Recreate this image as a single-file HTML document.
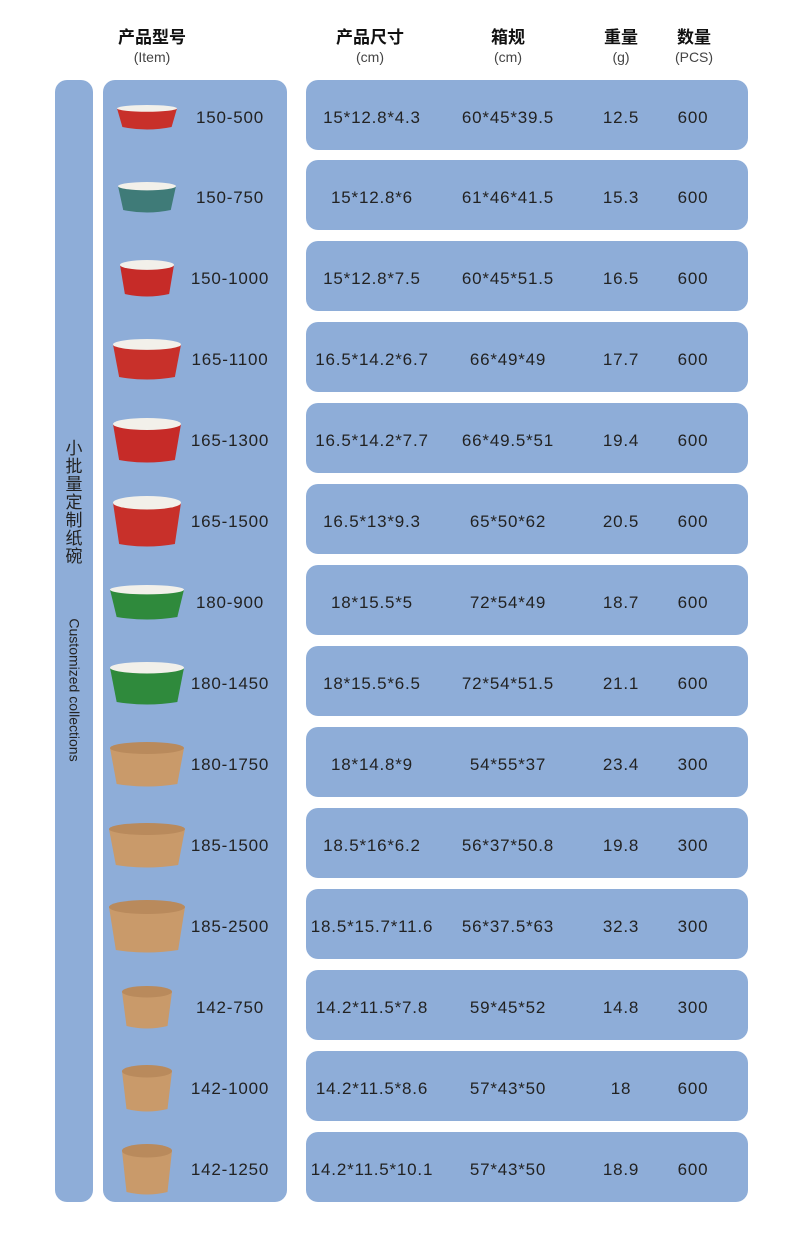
<!DOCTYPE html>
<html><head><meta charset="utf-8"><style>
body{margin:0;width:800px;height:1243px;background:#fff;position:relative;font-family:"Liberation Sans","Noto Sans CJK SC",sans-serif;overflow:hidden}
.a{position:absolute}
.bx{position:absolute;background:#8eadd8;border-radius:12px}
.h{position:absolute;text-align:center;font-weight:bold;font-size:17px;color:#111;line-height:20px}
.h span{display:block;font-weight:normal;font-size:14px;color:#444;line-height:18px}
.t{position:absolute;font-size:17px;color:#222;text-align:center;width:160px;margin-left:-80px;line-height:20px;letter-spacing:0.8px}
</style></head><body>
<div class="h" style="left:102px;top:28px;width:100px">产品型号<span>(Item)</span></div>
<div class="h" style="left:320px;top:28px;width:100px">产品尺寸<span>(cm)</span></div>
<div class="h" style="left:458px;top:28px;width:100px">箱规<span>(cm)</span></div>
<div class="h" style="left:571px;top:28px;width:100px">重量<span>(g)</span></div>
<div class="h" style="left:644px;top:28px;width:100px">数量<span>(PCS)</span></div>
<div class="bx" style="left:55px;top:80px;width:38px;height:1122px"></div>
<div class="bx" style="left:103px;top:80px;width:184px;height:1122px"></div>
<div class="a" style="left:64px;top:440px;width:20px;font-size:17px;line-height:18px;color:#222;text-align:center">小批量定制纸碗</div>
<div class="a" style="left:-3px;top:682px;width:155px;transform:rotate(90deg);font-size:14px;color:#222;text-align:center;line-height:16px">Customized collections</div>
<div id="rows"></div>
<script>
var d=[["150-500","15*12.8*4.3","60*45*39.5","12.5","600","#c8302a",60,26],
["150-750","15*12.8*6","61*46*41.5","15.3","600","#3f7b78",58,32],
["150-1000","15*12.8*7.5","60*45*51.5","16.5","600","#c62b28",54,38],
["165-1100","16.5*14.2*6.7","66*49*49","17.7","600","#c8302a",68,42],
["165-1300","16.5*14.2*7.7","66*49.5*51","19.4","600","#c62b28",68,46],
["165-1500","16.5*13*9.3","65*50*62","20.5","600","#c8302a",68,52],
["180-900","18*15.5*5","72*54*49","18.7","600","#2f8a3c",74,36],
["180-1450","18*15.5*6.5","72*54*51.5","21.1","600","#2f8a3c",74,44],
["180-1750","18*14.8*9","54*55*37","23.4","300","#c99a6a",74,46],
["185-1500","18.5*16*6.2","56*37*50.8","19.8","300","#c99a6a",76,46],
["185-2500","18.5*15.7*11.6","56*37.5*63","32.3","300","#c99a6a",76,54],
["142-750","14.2*11.5*7.8","59*45*52","14.8","300","#c99a6a",50,44],
["142-1000","14.2*11.5*8.6","57*43*50","18","600","#c99a6a",50,48],
["142-1250","14.2*11.5*10.1","57*43*50","18.9","600","#c99a6a",50,52]];
var tops=[80,160,241,322,403,484,565,646,727,808,889,970,1051,1132],h="";
d.forEach(function(r,i){var y=tops[i],c=y+38;
h+='<div class="bx" style="left:306px;top:'+y+'px;width:442px;height:70px"></div>';
var w=r[6],hh=r[7],cx=147,cy=c,top=cy-hh/2,bw=w*0.82,kraft=r[5]=="#c99a6a";
h+='<svg class="a" style="left:'+(cx-w/2-2)+'px;top:'+(top-2)+'px" width="'+(w+4)+'" height="'+(hh+4)+'"><path d="M2 '+(2+hh*0.13)+' L'+(2+(w-bw)/2)+' '+(hh-2)+' Q'+(2+w/2)+' '+(hh+3)+' '+(2+w-(w-bw)/2)+' '+(hh-2)+' L'+(w+2)+' '+(2+hh*0.13)+' Z" fill="'+r[5]+'"/><ellipse cx="'+(2+w/2)+'" cy="'+(2+hh*0.13)+'" rx="'+(w/2)+'" ry="'+(hh*0.13)+'" fill="'+(kraft?'#b98a5c':'#f2f0ea')+'"/></svg>';
h+='<div class="t" style="left:230px;top:'+(c-10)+'px">'+r[0]+'</div>';
h+='<div class="t" style="left:372px;top:'+(c-10)+'px">'+r[1]+'</div>';
h+='<div class="t" style="left:508px;top:'+(c-10)+'px">'+r[2]+'</div>';
h+='<div class="t" style="left:621px;top:'+(c-10)+'px">'+r[3]+'</div>';
h+='<div class="t" style="left:693px;top:'+(c-10)+'px">'+r[4]+'</div>';});
document.getElementById("rows").innerHTML=h;
</script>
</body></html>
